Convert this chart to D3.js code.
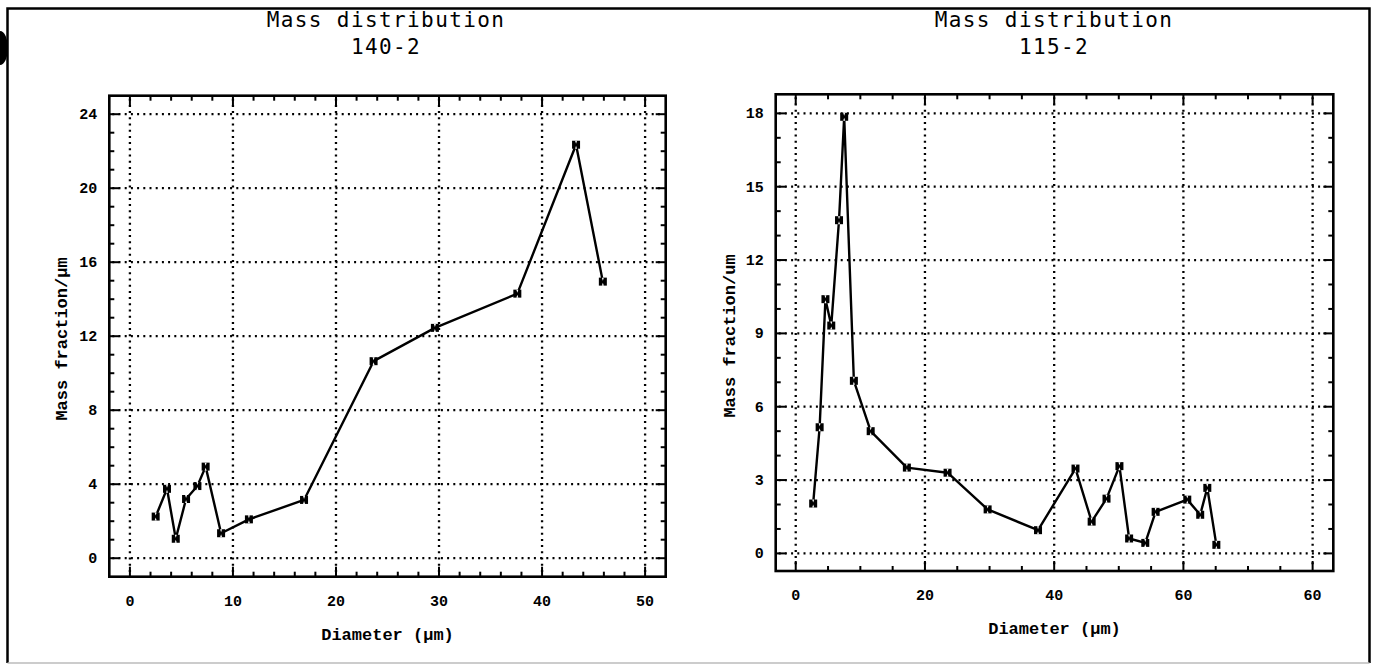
<!DOCTYPE html>
<html lang="en">
<head>
  <meta charset="UTF-8" />
  <title>Mass distribution</title>
  <style>
    body { margin: 0; background: #fff; }
    svg { display: block; }
    .grid { stroke: #000; stroke-width: 2.3; stroke-dasharray: 2,4.2; fill: none; }
    .frame { fill: none; stroke: #000; stroke-width: 2.6; }
    .tick { stroke: #000; stroke-width: 2; }
    .series { fill: none; stroke: #000; stroke-width: 2.4; stroke-linejoin: round; }
    .ticklab { font-family: "Liberation Mono", monospace; font-weight: bold; font-size: 15px; fill: #000; }
    .axlab { font-family: "Liberation Mono", monospace; font-weight: bold; font-size: 17px; fill: #000; }
    .title { font-family: "DejaVu Sans Mono", monospace; font-size: 21px; letter-spacing: 1.4px; fill: #000; }
  </style>
  <script src="https://d3js.org/d3.v7.min.js"></script>
</head>
<body>
  <svg id="chart" width="1376" height="665"></svg>

  <script>
    // ---------- data: left panel (140-2) ----------
    const leftDiam = [2.5, 3.6, 4.45, 5.45, 6.55, 7.35, 8.85, 11.55, 16.9, 23.65, 29.6, 37.6, 43.3, 45.9];
    const leftMass = [2.25, 3.75, 1.05, 3.2, 3.9, 4.95, 1.35, 2.1, 3.15, 10.65, 12.45, 14.3, 22.35, 14.95];
    const leftXTicks = [0, 10, 20, 30, 40, 50];
    const leftYTicks = [0, 4, 8, 12, 16, 20, 24];
    const leftXLabels = ["0", "10", "20", "30", "40", "50"];
    const leftYLabels = ["0", "4", "8", "12", "16", "20", "24"];

    // ---------- data: right panel (115-2) ----------
    const rightDiam = [2.7, 3.7, 4.6, 5.5, 6.7, 7.5, 9.0, 11.6, 17.2, 23.5, 29.7, 37.5, 43.3, 45.8, 48.1, 50.1, 51.6, 54.1, 55.7, 60.6, 62.6, 63.7, 65.1];
    const rightMass = [2.04, 5.16, 10.4, 9.32, 13.63, 17.86, 7.06, 5.0, 3.51, 3.3, 1.8, 0.95, 3.47, 1.3, 2.24, 3.57, 0.61, 0.43, 1.7, 2.2, 1.58, 2.68, 0.35];
    const rightXTicks = [0, 20, 40, 60, 80];
    const rightYTicks = [0, 3, 6, 9, 12, 15, 18];
    const rightXLabels = ["0", "20", "40", "60", "60"];
    const rightYLabels = ["0", "3", "6", "9", "12", "15", "18"];

    const svg = d3.select("#chart");

    // outer page border
    svg.append("path")
      .attr("d", "M7.5,663 L7.5,8.5 L1369.5,8.5 L1369.5,663")
      .attr("fill", "none").attr("stroke", "#000").attr("stroke-width", 2.5);
    svg.append("line")
      .attr("x1", 7.5).attr("x2", 1369.5).attr("y1", 663).attr("y2", 663)
      .attr("stroke", "#bbb").attr("stroke-width", 1.5);
    // punch hole on the left edge
    svg.append("ellipse")
      .attr("cx", 0).attr("cy", 48).attr("rx", 8).attr("ry", 17).attr("fill", "#000");

    function drawPanel(p) {
      const x = d3.scaleLinear().domain(p.xDomain).range([p.left, p.right]);
      const y = d3.scaleLinear().domain(p.yDomain).range([p.bottom, p.top]);
      const g = svg.append("g");

      // titles
      g.append("text").attr("class", "title")
        .attr("x", p.cx).attr("y", p.titleY).attr("text-anchor", "middle")
        .text("Mass distribution");
      g.append("text").attr("class", "title")
        .attr("x", p.cx).attr("y", p.titleY + 27).attr("text-anchor", "middle")
        .text(p.subtitle);

      // dotted grid
      g.selectAll("line.gx").data(p.xTicks).enter().append("line")
        .attr("class", "grid")
        .attr("x1", d => x(d)).attr("x2", d => x(d))
        .attr("y1", p.top + 3).attr("y2", p.bottom - 3);
      g.selectAll("line.gy").data(p.yTicks).enter().append("line")
        .attr("class", "grid")
        .attr("y1", d => y(d)).attr("y2", d => y(d))
        .attr("x1", p.left + 3).attr("x2", p.right - 3);

      // minor + major ticks on all four sides, pointing inward
      const xMinor = d3.range(p.xTicks[0], p.xTicks[p.xTicks.length - 1] + 1e-9, p.xMinor);
      const yMinor = d3.range(p.yTicks[0], p.yTicks[p.yTicks.length - 1] + 1e-9, p.yMinor);
      const isMajX = v => p.xTicks.some(t => Math.abs(t - v) < 1e-6);
      const isMajY = v => p.yTicks.some(t => Math.abs(t - v) < 1e-6);
      xMinor.forEach(v => {
        const len = isMajX(v) ? 10 : 5;
        g.append("line").attr("class", "tick")
          .attr("x1", x(v)).attr("x2", x(v)).attr("y1", p.bottom).attr("y2", p.bottom - len);
        g.append("line").attr("class", "tick")
          .attr("x1", x(v)).attr("x2", x(v)).attr("y1", p.top).attr("y2", p.top + len);
      });
      yMinor.forEach(v => {
        const len = isMajY(v) ? 10 : 5;
        g.append("line").attr("class", "tick")
          .attr("y1", y(v)).attr("y2", y(v)).attr("x1", p.left).attr("x2", p.left + len);
        g.append("line").attr("class", "tick")
          .attr("y1", y(v)).attr("y2", y(v)).attr("x1", p.right).attr("x2", p.right - len);
      });

      // frame
      g.append("rect").attr("class", "frame")
        .attr("x", p.left).attr("y", p.top)
        .attr("width", p.right - p.left).attr("height", p.bottom - p.top);

      // tick labels
      g.selectAll("text.tx").data(p.xTicks).enter().append("text")
        .attr("class", "ticklab")
        .attr("x", d => x(d)).attr("y", p.bottom + 29)
        .attr("text-anchor", "middle")
        .text((d, i) => p.xLabels[i]);
      g.selectAll("text.ty").data(p.yTicks).enter().append("text")
        .attr("class", "ticklab")
        .attr("x", p.left - 12).attr("y", d => y(d) + 5)
        .attr("text-anchor", "end")
        .text((d, i) => p.yLabels[i]);

      // axis labels
      g.append("text").attr("class", "axlab")
        .attr("x", (p.left + p.right) / 2).attr("y", p.bottom + 63)
        .attr("text-anchor", "middle")
        .text("Diameter (\u00b5m)");
      g.append("text").attr("class", "axlab")
        .attr("transform", `translate(${p.yLabX},${p.yLabY}) rotate(-90)`)
        .attr("text-anchor", "middle")
        .text(p.yLabel);

      // series
      const pts = p.xs.map((v, i) => [v, p.ys[i]]);
      g.append("path").attr("class", "series")
        .attr("d", d3.line().x(d => x(d[0])).y(d => y(d[1]))(pts));
      const mk = g.selectAll("g.mk").data(pts).enter().append("g")
        .attr("transform", d => `translate(${x(d[0])},${y(d[1])})`);
      mk.append("rect")
        .attr("x", -4).attr("y", -4).attr("width", 8).attr("height", 8).attr("fill", "#000");
      mk.append("path")
        .attr("d", "M-1,-4 L1,-4 L0,-1 Z M-1,4 L1,4 L0,1 Z")
        .attr("fill", "#fff");
    }

    drawPanel({
      left: 109.3, right: 665.7, top: 95.7, bottom: 576.7,
      xDomain: [-2, 52], yDomain: [-1, 25],
      xTicks: leftXTicks, yTicks: leftYTicks, xLabels: leftXLabels, yLabels: leftYLabels,
      xMinor: 2, yMinor: 1,
      xs: leftDiam, ys: leftMass,
      cx: 386, titleY: 27, subtitle: "140-2",
      yLabel: "Mass fraction/\u00b5m", yLabX: 67, yLabY: 339
    });

    drawPanel({
      left: 775.7, right: 1333.3, top: 94.3, bottom: 571,
      xDomain: [-3.1, 83.2], yDomain: [-0.72, 18.78],
      xTicks: rightXTicks, yTicks: rightYTicks, xLabels: rightXLabels, yLabels: rightYLabels,
      xMinor: 5, yMinor: 1,
      xs: rightDiam, ys: rightMass,
      cx: 1054, titleY: 27, subtitle: "115-2",
      yLabel: "Mass fraction/um", yLabX: 735, yLabY: 336
    });
  </script>
</body>
</html>
